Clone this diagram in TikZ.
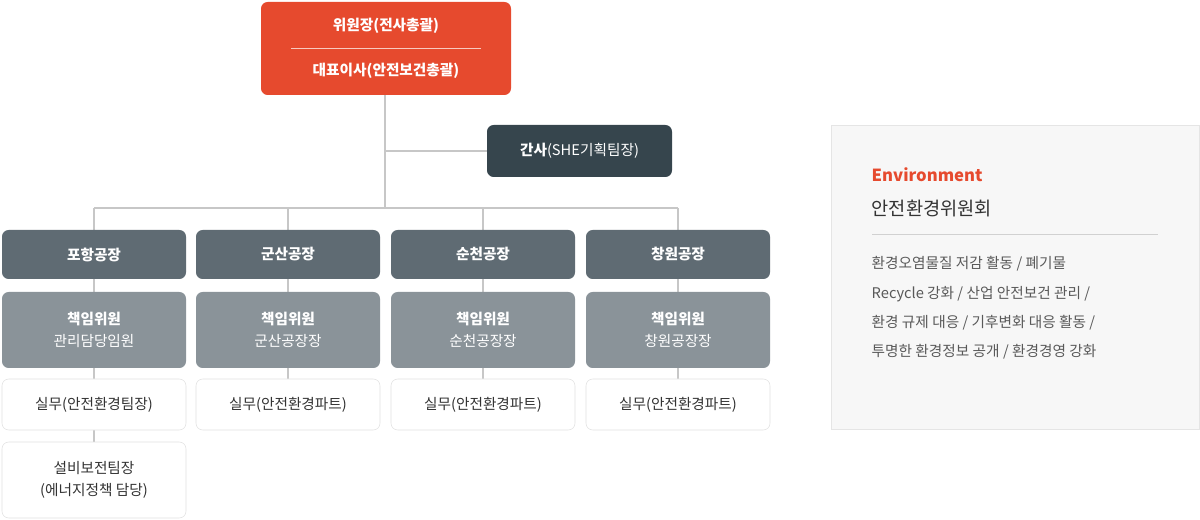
\documentclass[tikz,border=0pt]{standalone}
\usepackage{fontspec}
\setmainfont{Noto Sans CJK KR}
\begin{document}
\begin{tikzpicture}[x=0.75pt,y=-0.75pt,
  ln/.style={draw=black!22,line width=0.9pt},
  top/.style={fill=orgc,rounded corners=5pt,draw=none},
  hd/.style={fill=hdc,rounded corners=5pt,draw=none,text=white,font=\fontsize{11}{13}\selectfont\bfseries},
  md/.style={fill=mdc,rounded corners=5pt,draw=none,text=white,align=center,font=\fontsize{11}{16}\selectfont},
  lw/.style={fill=white,draw=black!12,rounded corners=5pt,text=txc,align=center,font=\fontsize{11}{16}\selectfont}]
\definecolor{orgc}{HTML}{E64A2E}
\definecolor{hdc}{HTML}{5F6B73}
\definecolor{mdc}{HTML}{8A9399}
\definecolor{dkc}{HTML}{36454D}
\definecolor{txc}{HTML}{333333}
\useasboundingbox (0,0) rectangle (1200,520);
% lines
\coordinate (t0) at (385,95);
\coordinate (t1) at (385,208);
\coordinate (tb) at (385,151);
\coordinate (hl) at (94,208);
\coordinate (hr) at (678,208);
\draw[ln] (t0) -- (t1);
\draw[ln] (hl) -- (hr);
\draw[ln] (tb) -- (487,151);
\foreach \x in {94,288,483,678} \draw[ln] (\x,208) -- (\x,230);
\draw[ln] (94,279) -- (94,442);
\foreach \x in {288,483,678} \draw[ln] (\x,279) -- (\x,379);
% top
\node[top,minimum width=250*0.75pt,minimum height=93*0.75pt] (top) at (386,48.5) {};
\draw[white!70!orgc,line width=0.6pt] (291,48) -- (481,48);
\node[text=white,font=\fontsize{11}{13}\selectfont\bfseries] (t1n) at (386,26) {위원장(전사총괄)};
\node[text=white,font=\fontsize{11}{13}\selectfont\bfseries] (t2n) at (386,71) {대표이사(안전보건총괄)};
\node[fill=dkc,rounded corners=5pt,text=white,minimum width=185*0.75pt,minimum height=52*0.75pt,font=\fontsize{11}{13}\selectfont] (gan) at (579.5,151) {\textbf{간사}(SHE기획팀장)};
% columns
\foreach \x/\a/\b/\c [count=\i] in {94/포항공장/관리담당임원/실무(안전환경팀장),288/군산공장/군산공장장/실무(안전환경파트),483/순천공장/순천공장장/실무(안전환경파트),678/창원공장/창원공장장/실무(안전환경파트)}{
  \node[hd,minimum width=184*0.75pt,minimum height=49*0.75pt] (h\i) at (\x,254.5) {\a};
  \node[md,minimum width=184*0.75pt,minimum height=76*0.75pt] (m\i) at (\x,330) {\textbf{책임위원}\\\b};
  \node[lw,minimum width=184*0.75pt,minimum height=51*0.75pt] (l\i) at (\x,404.5) {\c};
}
\node[lw,minimum width=184*0.75pt,minimum height=76*0.75pt] (l5) at (94,480) {설비보전팀장\\(에너지정책 담당)};
% right panel
\node[fill=black!3,draw=black!10,minimum width=368*0.75pt,minimum height=304*0.75pt] (pn) at (1015,277) {};
\node[anchor=west,text=orgc,font=\fontsize{12.5}{14}\selectfont\bfseries] (env) at (867,175) {Environment};
\node[anchor=west,text=txc,font=\fontsize{14}{16}\selectfont] (com) at (867,208) {안전환경위원회};
\draw[black!18,line width=0.6pt] (872,234) -- (1158,234);
\node[anchor=north west,text=black!65,align=left,font=\fontsize{11}{22}\selectfont] (body) at (867,252) {환경오염물질 저감 활동 / 폐기물\\Recycle 강화 / 산업 안전보건 관리 /\\환경 규제 대응 / 기후변화 대응 활동 /\\투명한 환경정보 공개 / 환경경영 강화};
\end{tikzpicture}
\end{document}
